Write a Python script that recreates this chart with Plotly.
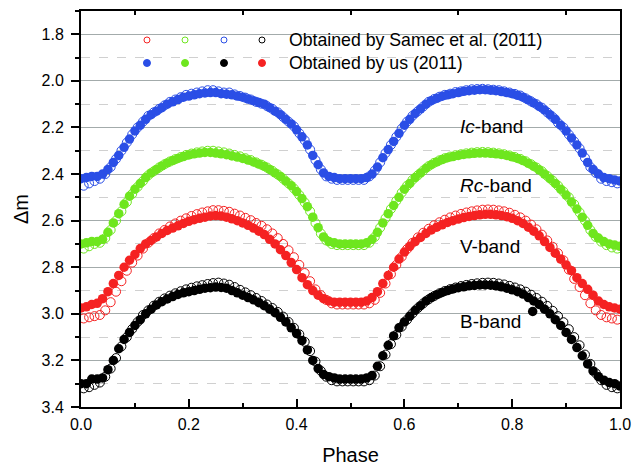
import plotly.graph_objects as go

# ---------------- data ----------------
phase_us = [0.00, 0.01, 0.02, 0.03, 0.04, 0.05, 0.06, 0.07, 0.08, 0.09,
            0.10, 0.11, 0.12, 0.13, 0.14, 0.15, 0.16, 0.17, 0.18, 0.19,
            0.20, 0.21, 0.22, 0.23, 0.24, 0.25, 0.26, 0.27, 0.28, 0.29,
            0.30, 0.31, 0.32, 0.33, 0.34, 0.35, 0.36, 0.37, 0.38, 0.39,
            0.40, 0.41, 0.42, 0.43, 0.44, 0.45, 0.46, 0.47, 0.48, 0.49,
            0.50, 0.51, 0.52, 0.53, 0.54, 0.55, 0.56, 0.57, 0.58, 0.59,
            0.60, 0.61, 0.62, 0.63, 0.64, 0.65, 0.66, 0.67, 0.68, 0.69,
            0.70, 0.71, 0.72, 0.73, 0.74, 0.75, 0.76, 0.77, 0.78, 0.79,
            0.80, 0.81, 0.82, 0.83, 0.84, 0.85, 0.86, 0.87, 0.88, 0.89,
            0.90, 0.91, 0.92, 0.93, 0.94, 0.95, 0.96, 0.97, 0.98, 0.99,
            1.00]

phase_samec = [0.005, 0.015, 0.025, 0.035, 0.045, 0.055, 0.065, 0.075, 0.085, 0.095,
               0.105, 0.115, 0.125, 0.135, 0.145, 0.155, 0.165, 0.175, 0.185, 0.195,
               0.205, 0.215, 0.225, 0.235, 0.245, 0.255, 0.265, 0.275, 0.285, 0.295,
               0.305, 0.315, 0.325, 0.335, 0.345, 0.355, 0.365, 0.375, 0.385, 0.395,
               0.405, 0.415, 0.425, 0.435, 0.445, 0.455, 0.465, 0.475, 0.485, 0.495,
               0.505, 0.515, 0.525, 0.535, 0.545, 0.555, 0.565, 0.575, 0.585, 0.595,
               0.605, 0.615, 0.625, 0.635, 0.645, 0.655, 0.665, 0.675, 0.685, 0.695,
               0.705, 0.715, 0.725, 0.735, 0.745, 0.755, 0.765, 0.775, 0.785, 0.795,
               0.805, 0.815, 0.825, 0.835, 0.845, 0.855, 0.865, 0.875, 0.885, 0.895,
               0.905, 0.915, 0.925, 0.935, 0.945, 0.955, 0.965, 0.975, 0.985, 0.995]

# Our observations (filled circles)
ic_us = [2.42, 2.415, 2.41, 2.41, 2.40, 2.38, 2.35, 2.32, 2.285, 2.25,
         2.215, 2.19, 2.165, 2.145, 2.13, 2.115, 2.10, 2.09, 2.08, 2.07,
         2.065, 2.06, 2.055, 2.052, 2.05, 2.05, 2.055, 2.057, 2.06, 2.065,
         2.07, 2.078, 2.085, 2.093, 2.10, 2.115, 2.13, 2.145, 2.165, 2.185,
         2.21, 2.24, 2.275, 2.32, 2.36, 2.395, 2.41, 2.415, 2.42, 2.42,
         2.42, 2.42, 2.42, 2.415, 2.40, 2.37, 2.33, 2.295, 2.26, 2.225,
         2.19, 2.165, 2.14, 2.12, 2.10, 2.085, 2.075, 2.066, 2.06, 2.055,
         2.05, 2.045, 2.042, 2.04, 2.038, 2.038, 2.04, 2.042, 2.046, 2.05,
         2.055, 2.062, 2.07, 2.082, 2.095, 2.11, 2.125, 2.145, 2.165, 2.19,
         2.215, 2.245, 2.275, 2.31, 2.35, 2.38, 2.40, 2.415, 2.42, 2.425,
         2.43]

rc_us = [2.70, 2.695, 2.69, 2.69, 2.68, 2.65, 2.61, 2.57, 2.53, 2.495,
         2.465, 2.44, 2.415, 2.395, 2.38, 2.365, 2.352, 2.342, 2.333, 2.325,
         2.318, 2.313, 2.31, 2.307, 2.307, 2.31, 2.313, 2.317, 2.322, 2.327,
         2.333, 2.34, 2.348, 2.357, 2.367, 2.38, 2.395, 2.41, 2.43, 2.45,
         2.475, 2.505, 2.54, 2.585, 2.63, 2.67, 2.69, 2.695, 2.70, 2.70,
         2.70, 2.70, 2.70, 2.695, 2.68, 2.65, 2.61, 2.57, 2.535, 2.50,
         2.465, 2.44, 2.415, 2.395, 2.375, 2.36, 2.348, 2.338, 2.33, 2.325,
         2.32, 2.316, 2.313, 2.311, 2.31, 2.31, 2.311, 2.313, 2.316, 2.32,
         2.326, 2.333, 2.342, 2.354, 2.367, 2.382, 2.40, 2.42, 2.44, 2.465,
         2.49, 2.52, 2.55, 2.585, 2.62, 2.655, 2.675, 2.69, 2.70, 2.705,
         2.71]

v_us = [2.975, 2.97, 2.96, 2.955, 2.935, 2.905, 2.87, 2.835, 2.80, 2.77,
        2.745, 2.72, 2.70, 2.685, 2.67, 2.655, 2.642, 2.632, 2.622, 2.612,
        2.603, 2.596, 2.59, 2.585, 2.58, 2.578, 2.58, 2.585, 2.592, 2.60,
        2.61, 2.62, 2.632, 2.645, 2.66, 2.68, 2.70, 2.725, 2.75, 2.78,
        2.81, 2.845, 2.875, 2.90, 2.92, 2.935, 2.945, 2.95, 2.95, 2.95,
        2.95, 2.95, 2.95, 2.945, 2.93, 2.905, 2.87, 2.835, 2.80, 2.765,
        2.735, 2.71, 2.69, 2.672, 2.655, 2.64, 2.628, 2.618, 2.608, 2.60,
        2.593, 2.587, 2.582, 2.578, 2.575, 2.573, 2.573, 2.575, 2.578, 2.583,
        2.59, 2.60, 2.612, 2.628, 2.645, 2.665, 2.69, 2.715, 2.74, 2.765,
        2.79, 2.815, 2.845, 2.87, 2.895, 2.92, 2.945, 2.96, 2.97, 2.975,
        2.98]

b_us = [3.30, 3.30, 3.28, 3.28, 3.275, 3.24, 3.20, 3.15, 3.11, 3.08,
        3.05, 3.025, 3.00, 2.98, 2.962, 2.948, 2.936, 2.926, 2.917, 2.91,
        2.905, 2.90, 2.895, 2.89, 2.888, 2.885, 2.887, 2.89, 2.90, 2.91,
        2.92, 2.93, 2.94, 2.952, 2.965, 2.98, 2.995, 3.015, 3.035, 3.06,
        3.085, 3.115, 3.155, 3.20, 3.235, 3.26, 3.27, 3.275, 3.28, 3.28,
        3.28, 3.28, 3.28, 3.275, 3.265, 3.225, 3.18, 3.135, 3.095, 3.06,
        3.035, 3.01, 2.985, 2.965, 2.945, 2.93, 2.918, 2.908, 2.90, 2.893,
        2.888, 2.884, 2.88, 2.878, 2.876, 2.876, 2.877, 2.88, 2.884, 2.89,
        2.897, 2.905, 2.915, 2.93, 2.945, 2.96, 2.98, 3.00, 3.025, 3.05,
        3.08, 3.11, 3.145, 3.18, 3.215, 3.245, 3.27, 3.285, 3.295, 3.30,
        3.31]

b_us_extra_phase = [0.838]
b_us_extra = [2.99]

# Samec et al. (2011) (open circles)
ic_samec = [2.45, 2.44, 2.43, 2.42, 2.40, 2.37, 2.335, 2.30, 2.265, 2.23,
            2.20, 2.175, 2.15, 2.135, 2.12, 2.105, 2.09, 2.08, 2.07, 2.06,
            2.055, 2.05, 2.045, 2.04, 2.04, 2.045, 2.05, 2.05, 2.058, 2.065,
            2.072, 2.08, 2.09, 2.098, 2.108, 2.12, 2.135, 2.155, 2.175, 2.195,
            2.225, 2.255, 2.295, 2.34, 2.38, 2.41, 2.42, 2.425, 2.425, 2.425,
            2.425, 2.425, 2.425, 2.41, 2.385, 2.35, 2.31, 2.275, 2.24, 2.205,
            2.175, 2.15, 2.13, 2.11, 2.09, 2.078, 2.068, 2.06, 2.055, 2.048,
            2.045, 2.04, 2.036, 2.035, 2.034, 2.036, 2.038, 2.04, 2.045, 2.05,
            2.056, 2.063, 2.075, 2.088, 2.10, 2.115, 2.135, 2.155, 2.18, 2.20,
            2.23, 2.26, 2.29, 2.33, 2.37, 2.395, 2.42, 2.43, 2.435, 2.44]

rc_samec = [2.72, 2.71, 2.70, 2.695, 2.675, 2.64, 2.60, 2.56, 2.52, 2.485,
            2.455, 2.43, 2.405, 2.388, 2.372, 2.358, 2.346, 2.336, 2.327, 2.318,
            2.312, 2.307, 2.303, 2.30, 2.30, 2.303, 2.307, 2.312, 2.318, 2.324,
            2.332, 2.34, 2.35, 2.36, 2.372, 2.386, 2.402, 2.42, 2.44, 2.462,
            2.49, 2.522, 2.56, 2.61, 2.655, 2.685, 2.70, 2.705, 2.705, 2.705,
            2.705, 2.705, 2.705, 2.695, 2.67, 2.63, 2.59, 2.55, 2.515, 2.48,
            2.45, 2.425, 2.405, 2.385, 2.366, 2.352, 2.341, 2.332, 2.325, 2.319,
            2.315, 2.311, 2.308, 2.306, 2.305, 2.306, 2.308, 2.311, 2.315, 2.32,
            2.327, 2.335, 2.345, 2.358, 2.372, 2.388, 2.408, 2.428, 2.45, 2.475,
            2.50, 2.53, 2.565, 2.60, 2.64, 2.67, 2.69, 2.705, 2.715, 2.72]

v_samec = [3.02, 3.015, 3.01, 3.005, 2.985, 2.95, 2.905, 2.86, 2.815, 2.78,
           2.75, 2.72, 2.695, 2.675, 2.655, 2.64, 2.625, 2.612, 2.60, 2.59,
           2.58, 2.572, 2.565, 2.56, 2.555, 2.555, 2.558, 2.562, 2.57, 2.578,
           2.588, 2.598, 2.61, 2.622, 2.637, 2.655, 2.675, 2.70, 2.727, 2.757,
           2.79, 2.825, 2.86, 2.895, 2.92, 2.94, 2.955, 2.96, 2.96, 2.96,
           2.96, 2.96, 2.96, 2.955, 2.94, 2.91, 2.87, 2.83, 2.79, 2.755,
           2.722, 2.695, 2.672, 2.652, 2.635, 2.62, 2.607, 2.596, 2.586, 2.578,
           2.571, 2.565, 2.56, 2.556, 2.553, 2.552, 2.553, 2.556, 2.56, 2.566,
           2.575, 2.586, 2.60, 2.617, 2.637, 2.66, 2.685, 2.712, 2.74, 2.77,
           2.81, 2.85, 2.885, 2.92, 2.955, 2.985, 3.005, 3.015, 3.02, 3.025]

b_samec = [3.32, 3.315, 3.305, 3.295, 3.27, 3.235, 3.19, 3.14, 3.10, 3.065,
           3.035, 3.005, 2.985, 2.965, 2.948, 2.934, 2.922, 2.912, 2.903, 2.895,
           2.888, 2.882, 2.877, 2.872, 2.868, 2.866, 2.87, 2.875, 2.885, 2.897,
           2.908, 2.92, 2.932, 2.945, 2.96, 2.975, 2.992, 3.012, 3.035, 3.06,
           3.088, 3.12, 3.16, 3.205, 3.245, 3.27, 3.285, 3.29, 3.29, 3.29,
           3.29, 3.29, 3.29, 3.285, 3.265, 3.225, 3.175, 3.13, 3.09, 3.055,
           3.025, 2.998, 2.975, 2.955, 2.938, 2.924, 2.912, 2.902, 2.894, 2.887,
           2.881, 2.876, 2.872, 2.869, 2.867, 2.866, 2.867, 2.87, 2.874, 2.88,
           2.887, 2.895, 2.905, 2.918, 2.932, 2.948, 2.966, 2.987, 3.01, 3.036,
           3.066, 3.10, 3.135, 3.175, 3.215, 3.255, 3.285, 3.305, 3.315, 3.32]

band_labels = ["<i>Ic</i>-band", "<i>Rc</i>-band", "V-band", "B-band"]
band_label_pos = [(0.70, 2.194), (0.70, 2.451), (0.70, 2.712), (0.70, 3.033)]
legend_texts = ["Obtained by Samec et al. (2011)", "Obtained by us (2011)"]

BLUE = "#2a4ee6"
GREEN = "#6ee61e"
RED = "#f52222"
BLACK = "#000000"

FONT = "Liberation Sans, Arial, sans-serif"

for arr in (ic_us, rc_us, v_us, b_us):
    assert len(arr) == len(phase_us)
for arr in (ic_samec, rc_samec, v_samec, b_samec):
    assert len(arr) == len(phase_samec)

fig = go.Figure()

filled = [(b_us, BLACK), (v_us, RED), (rc_us, GREEN), (ic_us, BLUE)]
opened = [(b_samec, BLACK), (v_samec, RED), (rc_samec, GREEN), (ic_samec, BLUE)]

for vals, col in filled:
    fig.add_trace(go.Scatter(x=phase_us, y=vals, mode="markers",
                             marker=dict(symbol="circle", size=9.5, color=col,
                                         line=dict(width=0)),
                             showlegend=False, hoverinfo="skip"))
fig.add_trace(go.Scatter(x=b_us_extra_phase, y=b_us_extra, mode="markers",
                         marker=dict(symbol="circle", size=9.5, color=BLACK),
                         showlegend=False, hoverinfo="skip"))
for vals, col in opened:
    fig.add_trace(go.Scatter(x=phase_samec, y=vals, mode="markers",
                             marker=dict(symbol="circle-open", size=9, color=col,
                                         line=dict(width=1, color=col)),
                             showlegend=False, hoverinfo="skip"))

# dummy trace for the top axis (ticks only)
fig.add_trace(go.Scatter(x=[0.5], y=[2.0], xaxis="x2", mode="markers",
                         marker=dict(opacity=0), showlegend=False, hoverinfo="skip"))

fig.update_layout(
    width=633, height=466,
    margin=dict(l=81, r=13, t=11, b=59),
    paper_bgcolor="white", plot_bgcolor="white",
    font=dict(family=FONT, size=16, color="black"),
    xaxis=dict(range=[0, 1], dtick=0.2, tick0=0, tickformat=".1f",
               ticks="inside", ticklen=8, tickwidth=1.5, tickcolor="black",
               showgrid=False, zeroline=False, automargin=False,
               showline=True, linewidth=2, linecolor="black", mirror=True,
               minor=dict(dtick=0.1, ticks="inside", ticklen=4, tickwidth=1.5,
                          tickcolor="black", showgrid=False),
               title=dict(text="Phase", font=dict(size=20), standoff=18),
               tickfont=dict(size=16), ticklabelstandoff=2),
    xaxis2=dict(range=[0, 1], overlaying="x", side="top", automargin=False,
                tickvals=[0.1, 0.3, 0.5, 0.7, 0.9], ticks="inside", ticklen=4,
                tickwidth=1.5, tickcolor="black", showticklabels=False,
                showgrid=False, zeroline=False, showline=False),
    yaxis=dict(range=[3.4, 1.7], dtick=0.2, tick0=0, tickformat=".1f",
               ticks="outside", ticklen=8, tickwidth=1.5, tickcolor="black",
               showgrid=True, gridcolor="#a3abab", gridwidth=1,
               zeroline=False, automargin=False,
               showline=True, linewidth=2, linecolor="black", mirror=True,
               minor=dict(dtick=0.1, ticks="outside", ticklen=4, tickwidth=1.5,
                          tickcolor="black", showgrid=True, gridcolor="#d0d0d0",
                          griddash="dash", gridwidth=1),
               title=dict(text="Δm", font=dict(size=20), standoff=8),
               tickfont=dict(size=16), ticklabelstandoff=4),
)

for txt, (px, py) in zip(band_labels, band_label_pos):
    fig.add_annotation(x=px, y=py, xref="x", yref="y", text=txt, showarrow=False,
                       xanchor="left", yanchor="middle", font=dict(size=19))

# custom legend
leg_x = [0.1224, 0.193, 0.2653, 0.3358]
row1_cols = [RED, GREEN, BLUE, BLACK]
row2_cols = [BLUE, GREEN, BLACK, RED]
row_y = [0.9268, 0.8687]
for xx, col in zip(leg_x, row1_cols):
    fig.add_shape(type="circle", xref="paper", yref="paper",
                  xsizemode="pixel", ysizemode="pixel", xanchor=xx, yanchor=row_y[0],
                  x0=-3, x1=3, y0=-3, y1=3, line=dict(color=col, width=1),
                  fillcolor="rgba(0,0,0,0)")
for xx, col in zip(leg_x, row2_cols):
    fig.add_shape(type="circle", xref="paper", yref="paper",
                  xsizemode="pixel", ysizemode="pixel", xanchor=xx, yanchor=row_y[1],
                  x0=-3.5, x1=3.5, y0=-3.5, y1=3.5, line=dict(color=col, width=1),
                  fillcolor=col)
for txt, yy in zip(legend_texts, row_y):
    fig.add_annotation(x=0.382, y=yy, xref="paper", yref="paper", text=txt,
                       showarrow=False, xanchor="left", yanchor="middle",
                       font=dict(size=17.7))

fig.write_html("out.html")
